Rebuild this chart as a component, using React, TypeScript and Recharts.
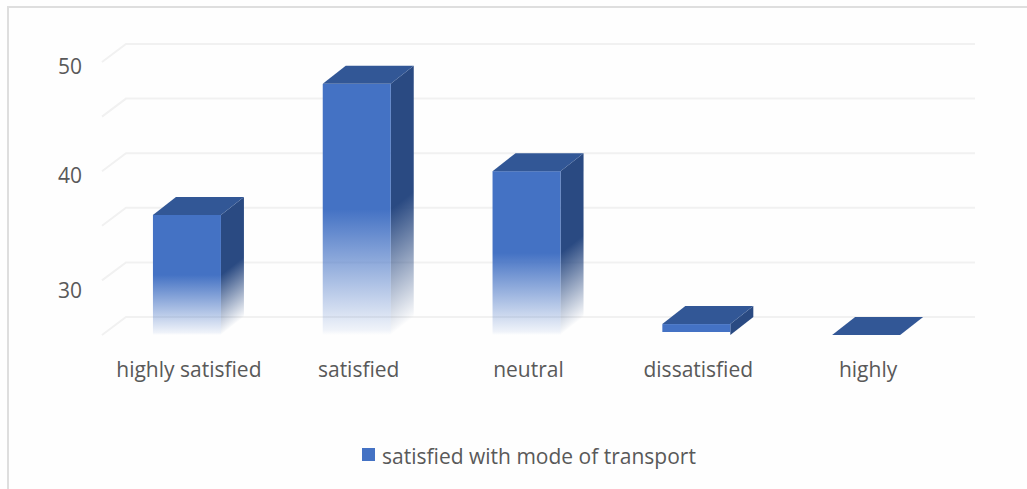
import React from "react";
import { BarChart, Bar, XAxis, YAxis, CartesianGrid, Legend } from "recharts";

const categories = ["highly satisfied", "satisfied", "neutral", "dissatisfied", "highly"];
const satisfiedValues = [36, 48, 40, 26, 25];
const valueTicks = [25, 30, 35, 40, 45, 50];
const labelledTicks = [30, 40, 50];
const seriesName = "satisfied with mode of transport";

const rows = categories.map((category, i) => ({ category, satisfied: satisfiedValues[i] }));

const FONT = "'Open Sans', 'Noto Sans', sans-serif";
const TEXT = "#595959";
const FRONT = "#4472C4";
const SIDE = "#2A4A82";
const TOP = "#325796";
const GRID = "#F1F1F1";
const DEPTH_X = 23;
const DEPTH_Y = 18;
const DEPTH_ANGLE = (Math.atan2(-DEPTH_Y, DEPTH_X) * 180) / Math.PI;

// Receding floor-to-wall gridline: a short diagonal, then the run along the back wall.
const PerspectiveGridLine = (props: any) => {
  const { x1, x2, y1 } = props;
  const points = `${x1},${y1} ${x1 + DEPTH_X + 1},${y1 - DEPTH_Y} ${x2 + DEPTH_X + 1},${y1 - DEPTH_Y}`;
  return <polyline points={points} fill="none" stroke={GRID} strokeWidth={2} />;
};

// Extruded column: front face, side face and lid. The side's fade is sheared so it
// follows the depth of the column instead of running straight across.
const ExtrudedBar = (props: any) => {
  const { x, y, width, height, index } = props;
  const tall = height > 30;
  const right = x + width;
  const bottom = y + height;
  const sideId = `sideFade${index}`;
  return (
    <g>
      {tall && (
        <defs>
          <linearGradient
            id={sideId}
            gradientUnits="userSpaceOnUse"
            x1={right}
            y1={y}
            x2={right}
            y2={bottom}
            gradientTransform={`translate(${right} 0) skewY(${DEPTH_ANGLE}) translate(${-right} 0)`}
          >
            <stop offset="0.5" stopColor={SIDE} />
            <stop offset="0.98" stopColor={SIDE} stopOpacity={0.05} />
            <stop offset="1" stopColor={SIDE} stopOpacity={0} />
          </linearGradient>
        </defs>
      )}
      {height > 0 && (
        <>
          <polygon
            points={`${right},${y} ${right + DEPTH_X},${y - DEPTH_Y} ${right + DEPTH_X},${bottom - DEPTH_Y} ${right},${bottom}`}
            fill={tall ? `url(#${sideId})` : SIDE}
          />
          <rect x={x} y={y} width={width} height={tall ? height : height - 3} fill={tall ? "url(#frontFade)" : FRONT} />
        </>
      )}
      <polygon
        points={`${x},${y} ${x + DEPTH_X},${y - DEPTH_Y} ${right + DEPTH_X},${y - DEPTH_Y} ${right},${y}`}
        fill={TOP}
      />
    </g>
  );
};

// Only every other gridline carries a label; the lowest one sits a little further down.
const ValueTick = (props: any) => {
  const { x, y, payload } = props;
  if (!labelledTicks.includes(payload.value)) return null;
  return (
    <text x={x} y={y} dy={payload.value === 30 ? 18 : 12} textAnchor="end" fontFamily={FONT} fontSize={21} fill={TEXT}>
      {payload.value}
    </text>
  );
};

export default function App() {
  return (
    <div
      style={{
        position: "absolute",
        left: 0,
        top: 0,
        width: 1027,
        height: 489,
        background: "#FEFEFE",
        overflow: "hidden",
      }}
    >
      <div
        style={{
          position: "absolute",
          left: 7,
          top: 6,
          right: 0,
          bottom: 0,
          borderLeft: "2px solid #DEDEDE",
          borderTop: "2px solid #DEDEDE",
        }}
      />
      <BarChart
        width={1027}
        height={489}
        data={rows}
        margin={{ top: 62, right: 76, bottom: 86, left: 42 }}
        barCategoryGap="30%"
        style={{ position: "absolute", left: 0, top: 0 }}
      >
        <defs>
          <linearGradient id="frontFade" x1="0" y1="0" x2="0" y2="1">
            <stop offset="0.5" stopColor={FRONT} />
            <stop offset="0.98" stopColor={FRONT} stopOpacity={0.08} />
            <stop offset="1" stopColor={FRONT} stopOpacity={0} />
          </linearGradient>
        </defs>
        <CartesianGrid vertical={false} horizontal={<PerspectiveGridLine />} />
        <XAxis
          dataKey="category"
          height={40}
          axisLine={false}
          tickLine={false}
          interval={0}
          tick={{ fontFamily: FONT, fontSize: 21, fill: TEXT, dx: 2 }}
          tickMargin={21}
        />
        <YAxis
          type="number"
          domain={[25, 50]}
          ticks={valueTicks}
          width={60}
          axisLine={false}
          tickLine={false}
          tick={<ValueTick />}
          tickMargin={14}
          interval={0}
          allowDataOverflow
        />
        <Legend
          layout="horizontal"
          verticalAlign="bottom"
          iconType="square"
          iconSize={13}
          wrapperStyle={{ position: "absolute", left: 0, top: 436, width: 1065, margin: 0, textAlign: "center" }}
          formatter={(value: string) => (
            <span style={{ color: TEXT, fontFamily: FONT, fontSize: 21, position: "relative", left: 3, top: 6 }}>{value}</span>
          )}
        />
        <Bar
          dataKey="satisfied"
          name={seriesName}
          fill={FRONT}
          isAnimationActive={false}
          shape={<ExtrudedBar />}
        />
      </BarChart>
    </div>
  );
}
